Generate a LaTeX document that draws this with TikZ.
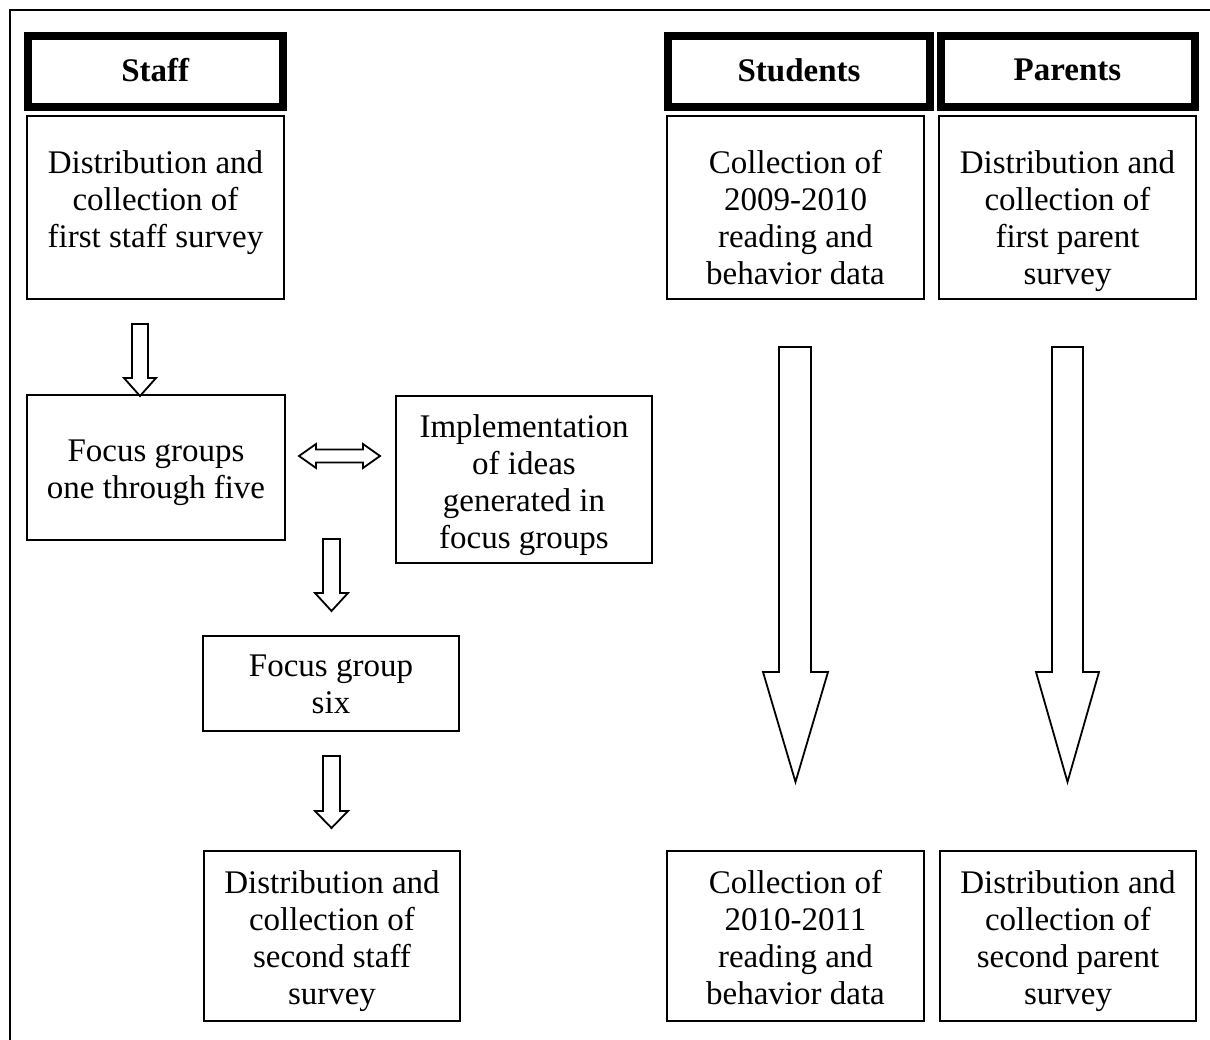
\documentclass[tikz,border=0pt]{standalone}
\usepackage{fontspec}
\setmainfont{Liberation Serif}
\begin{document}
\begin{tikzpicture}[x=1pt,y=-1pt,
  box/.style={draw, line width=1.8pt, inner sep=0pt},
  headbox/.style={draw, line width=8pt, inner sep=0pt, minimum height=71},
  txt/.style={align=center, font=\fontsize{33}{37}\selectfont, inner sep=0pt},
  htxt/.style={font=\fontsize{33}{37}\selectfont\bfseries, inner sep=0pt},
  blk/.style={draw, line width=1.8pt, line join=miter}]
\useasboundingbox (0,0) rectangle (1210,1040);
% outer frame
\coordinate (fr1) at (10,1040);
\coordinate (fr2) at (10,10);
\coordinate (fr3) at (1210,10);
\draw[line width=2pt] (fr1) -- (fr2) -- (fr3);

% headers
\node[headbox, minimum width=255.5] (hstaff) at (155.25,71.75) {};
\node[htxt] (hstafft) at (155.25,70) {Staff};
\node[headbox, minimum width=262] (hstud) at (799,71.75) {};
\node[htxt] (hstudt) at (799,70) {Students};
\node[headbox, minimum width=254] (hpar) at (1067.5,71.75) {};
\node[htxt] (hpart) at (1067.5,70) {Parents};

% boxes
\node[box, minimum width=257, minimum height=183] (s1) at (155.5,207.5) {};
\node[txt] (s1t) at (155.5,203) {Distribution and\\collection of\\first staff survey};
\node[box, minimum width=257, minimum height=183] (u1) at (795.5,207.5) {};
\node[txt] (u1t) at (795.5,218) {Collection of\\2009-2010\\reading and\\behavior data};
\node[box, minimum width=257, minimum height=183] (p1) at (1067.5,207.5) {};
\node[txt] (p1t) at (1067.5,221) {Distribution and\\collection of\\first parent\\survey};

\node[box, minimum width=258, minimum height=145] (fg) at (156,467.5) {};
\node[txt] (fgt) at (156,473) {Focus groups\\one through five};
\node[box, minimum width=256, minimum height=167] (im) at (524,479.5) {};
\node[txt] (imt) at (524,485) {Implementation\\of ideas\\generated in\\focus groups};
\node[box, minimum width=256, minimum height=95] (f6) at (331,683.5) {};
\node[txt] (f6t) at (331,684.5) {Focus group\\six};
\node[box, minimum width=256, minimum height=170] (s2) at (332,936) {};
\node[txt] (s2t) at (332,941) {Distribution and\\collection of\\second staff\\survey};
\node[box, minimum width=257, minimum height=170] (u2) at (795.5,936) {};
\node[txt] (u2t) at (795.5,938) {Collection of\\2010-2011\\reading and\\behavior data};
\node[box, minimum width=256, minimum height=170] (p2) at (1068,936) {};
\node[txt] (p2t) at (1068,941) {Distribution and\\collection of\\second parent\\survey};

% small block arrows
\draw[blk] (132,324) -- (148,324) -- (148,378) -- (156,378) -- (140,396) -- (124,378) -- (132,378) -- cycle;
\draw[blk] (323,539) -- (340,539) -- (340,593) -- (348,593) -- (331.5,611) -- (315,593) -- (323,593) -- cycle;
\draw[blk] (323,756) -- (340,756) -- (340,811) -- (348,811) -- (331.5,828) -- (315,811) -- (323,811) -- cycle;
% big block arrows
\draw[blk] (779,347) -- (811,347) -- (811,672) -- (828,672) -- (795.5,782) -- (763,672) -- (779,672) -- cycle;
\draw[blk] (1052,347) -- (1083,347) -- (1083,672) -- (1099,672) -- (1067.5,782) -- (1036,672) -- (1052,672) -- cycle;
% double arrow
\draw[blk] (299,456) -- (316,444) -- (316,449.5) -- (363,449.5) -- (363,444) -- (380,456) -- (363,468) -- (363,462.5) -- (316,462.5) -- (316,468) -- cycle;
\end{tikzpicture}
\end{document}
